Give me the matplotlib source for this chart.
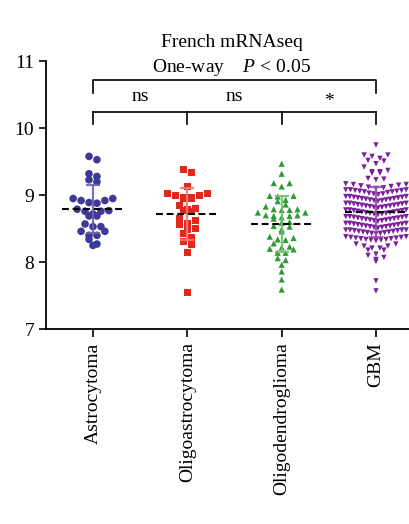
import numpy as np
import matplotlib
matplotlib.use("Agg")
import matplotlib.pyplot as plt

plt.rcParams["font.family"] = ["Liberation Serif", "DejaVu Serif"]
plt.rcParams["mathtext.fontset"] = "custom"
plt.rcParams["mathtext.rm"] = "Liberation Serif"
plt.rcParams["mathtext.it"] = "Liberation Serif:italic"

# Data
groups = ["Astrocytoma", "Oligoastrocytoma", "Oligodendroglioma", "GBM"]

astro = [9.58, 9.53, 9.32, 9.28, 9.23, 9.20, 8.95, 8.95, 8.92, 8.92, 8.89, 8.88,
         8.79, 8.77, 8.76, 8.76, 8.72, 8.69, 8.69, 8.57, 8.53, 8.53, 8.46, 8.46,
         8.40, 8.40, 8.34, 8.27, 8.25]

oligoastro = [9.38, 9.34, 9.13, 9.03, 9.03, 9.00, 9.00, 8.97, 8.97, 8.95, 8.95,
              8.85, 8.80, 8.79, 8.77, 8.76, 8.65, 8.62, 8.58, 8.56, 8.50, 8.49,
              8.43, 8.37, 8.31, 8.26, 8.14, 7.55]

oligodendro = [9.47, 9.32, 9.18, 9.18, 9.13, 8.99, 8.99, 8.98, 8.93, 8.91, 8.86,
               8.83, 8.79, 8.79, 8.78, 8.78, 8.74, 8.74, 8.70, 8.70, 8.69, 8.69,
               8.67, 8.65, 8.60, 8.59, 8.54, 8.53, 8.49, 8.46, 8.38, 8.36, 8.34,
               8.33, 8.28, 8.23, 8.22, 8.20, 8.19, 8.14, 8.14, 8.06, 8.03, 7.96,
               7.86, 7.74, 7.59]

gbm = [9.75,
       9.60, 9.60, 9.58, 9.55, 9.52, 9.51, 9.47, 9.42, 9.37, 9.35, 9.35,
       9.33, 9.33, 9.25, 9.24, 9.23,
       9.17, 9.16, 9.16, 9.15, 9.14, 9.13, 9.12, 9.11, 9.10,
       9.08, 9.08, 9.08, 9.07, 9.07, 9.06, 9.06, 9.05, 9.05, 9.04, 9.03, 9.02, 9.02, 9.01,
       8.98, 8.98, 8.98, 8.97, 8.97, 8.96, 8.96, 8.95, 8.95, 8.94, 8.94, 8.93, 8.93, 8.92, 8.92, 8.91,
       8.88, 8.88, 8.88, 8.87, 8.87, 8.86, 8.86, 8.85, 8.85, 8.84, 8.84, 8.83, 8.83, 8.82, 8.82, 8.81,
       8.78, 8.78, 8.78, 8.77, 8.77, 8.76, 8.76, 8.75, 8.75, 8.74, 8.74, 8.73, 8.73, 8.72, 8.72, 8.71,
       8.68, 8.68, 8.68, 8.67, 8.67, 8.66, 8.66, 8.65, 8.65, 8.64, 8.64, 8.63, 8.63, 8.62, 8.62, 8.61,
       8.58, 8.58, 8.58, 8.57, 8.57, 8.56, 8.56, 8.55, 8.55, 8.54, 8.54, 8.53, 8.53, 8.52, 8.52, 8.51,
       8.48, 8.48, 8.48, 8.48, 8.47, 8.47, 8.46, 8.46, 8.45, 8.45, 8.44, 8.44, 8.43, 8.43, 8.42,
       8.38, 8.38, 8.37, 8.37, 8.36, 8.36, 8.35, 8.35, 8.34, 8.34, 8.33, 8.33, 8.32,
       8.27, 8.27, 8.24, 8.24, 8.21, 8.21, 8.18, 8.18,
       8.12, 8.10, 8.07, 8.04, 8.01,
       7.72, 7.57]

all_data = [astro, oligoastro, oligodendro, gbm]
colors = ["#3d3995", "#e2271d", "#2f9a36", "#7a2098"]
bar_colors = ["#6a63ae", "#f07a6e", "#73bf70", "#9650b4"]
markers = ["o", "s", "^", "v"]
sizes = [30, 24, 20, 15]

comparisons = ["ns", "ns", "*"]


def row_offsets(vals, row_h=0.075, step=0.084, max_w=0.64):
    # GraphPad-like layout: group values into rows, lowest in the middle
    vals = np.asarray(vals, dtype=float)
    order = np.argsort(-vals)
    offs = np.zeros(len(vals))
    i = 0
    while i < len(order):
        top = vals[order[i]]
        j = i
        while j < len(order) and vals[order[j]] > top - row_h:
            j += 1
        idx = order[i:j]
        idx = idx[np.argsort(vals[idx])]
        n = len(idx)
        s = step if (n - 1) * step <= max_w else max_w / (n - 1)
        if n % 2 == 1:
            slots = [0]
            k = 1
            while len(slots) < n:
                slots += [k, -k]
                k += 1
        else:
            slots = []
            k = 0.5
            while len(slots) < n:
                slots += [k, -k]
                k += 1
        for p, ix in zip(slots[:n], idx):
            offs[ix] = p * s
        i = j
    return offs


fig = plt.figure(figsize=(4.09, 5.24), dpi=100)
ax = fig.add_axes([0.112, 0.372, 0.888, 0.511])

for i, vals in enumerate(all_data):
    vals = np.array(vals)
    x = i + row_offsets(vals)
    ax.scatter(x, vals, marker=markers[i], s=sizes[i], color=colors[i],
               edgecolors="none", zorder=3, clip_on=False)
    m = vals.mean()
    sd = vals.std(ddof=1)
    ax.errorbar(i, m, yerr=sd, color=bar_colors[i], lw=1.6, capsize=5,
                capthick=1.6, zorder=4, alpha=0.9)
    ax.plot([i - 0.33, i + 0.33], [m, m], color="black", lw=1.5,
            dashes=(3.3, 1.8), zorder=5)

# significance brackets
ax.plot([0, 0, 3, 3], [10.52, 10.72, 10.72, 10.52], color="black", lw=1.2)
ax.plot([0, 3], [10.25, 10.25], color="black", lw=1.2)
for i in range(4):
    ax.plot([i, i], [10.25, 10.06], color="black", lw=1.2)
for i, lab in enumerate(comparisons):
    if lab == "*":
        ax.text(i + 0.5, 10.40, lab, ha="center", va="center", fontsize=14)
    else:
        ax.text(i + 0.5, 10.40, lab, ha="center", va="baseline", fontsize=14)

ax.text(1.47, 11.21, "French mRNAseq", ha="center", va="baseline",
        fontsize=14, clip_on=False)
ax.text(1.47, 10.84, "One-way    $\\it{P}$ < 0.05", ha="center",
        va="baseline", fontsize=14, clip_on=False)

ax.set_xlim(-0.5, 3.35)
ax.set_ylim(7, 11)
ax.set_yticks([7, 8, 9, 10, 11])
ax.set_xticks(range(4))
ax.set_xticklabels(groups, rotation=90, fontsize=14)
ax.tick_params(axis="y", labelsize=14, length=5, width=1.2, direction="out")
ax.tick_params(axis="x", length=6, width=1.2, direction="out")
ax.spines["top"].set_visible(False)
ax.spines["right"].set_visible(False)
ax.spines["left"].set_linewidth(1.3)
ax.spines["bottom"].set_linewidth(1.3)

fig.savefig("out.png", dpi=100)
